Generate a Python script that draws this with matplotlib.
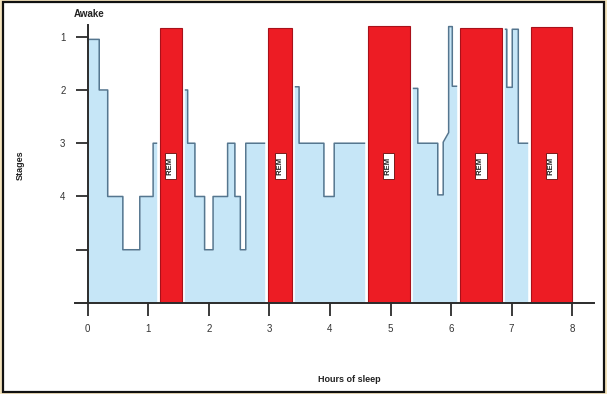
"""Sleep stages hypnogram with REM periods."""

import matplotlib

matplotlib.use("Agg")
from matplotlib import patheffects as pe  # noqa: E402
from matplotlib import pyplot as plt  # noqa: E402
from matplotlib.patches import Rectangle  # noqa: E402

plt.rcParams["font.family"] = ["Liberation Sans", "DejaVu Sans"]

_FILL_COLOR = "#c6e6f7"
_LINE_COLOR = "#55768f"
_REM_COLOR = "#ed1c24"
_REM_EDGE = "#a8111a"
_AXIS_COLOR = "#2b2b2b"
_OUTER_COLOR = "#f4e4bd"

# hypnogram vertices (hours, stage) -- hidden under REM bars where they overlap
hours = [0.00, 0.19, 0.19, 0.33, 0.33, 0.58, 0.58, 0.86, 0.86, 1.08, 1.08,
         1.37, 1.37, 1.65, 1.65, 1.77, 1.77, 1.93, 1.93, 2.07, 2.07, 2.31,
         2.31, 2.43, 2.43, 2.52, 2.52, 2.61, 2.61, 3.18, 3.18, 3.49, 3.49,
         3.90, 3.90, 4.07, 4.07, 4.97, 4.97, 5.45, 5.45, 5.78, 5.78, 5.87,
         5.87, 5.96, 5.96, 6.02, 6.02, 6.49, 6.49, 6.92, 6.92, 7.01, 7.01,
         7.11, 7.11, 8.00]
stages = [1.05, 1.05, 2.0, 2.0, 4.0, 4.0, 5.0, 5.0, 4.0, 4.0, 3.0,
          3.0, 2.0, 2.0, 3.0, 3.0, 4.0, 4.0, 5.0, 5.0, 4.0, 4.0,
          3.0, 3.0, 4.0, 4.0, 5.0, 5.0, 3.0, 3.0, 1.94, 1.94, 3.0,
          3.0, 4.0, 4.0, 3.0, 3.0, 1.97, 1.97, 3.0, 3.0, 3.97, 3.97,
          2.98, 2.8, 0.81, 0.81, 1.93, 1.93, 0.86, 0.86, 1.95, 1.95, 0.86,
          0.86, 3.0, 3.0]

rem_start = [1.19, 2.98, 4.62, 6.14, 7.32]
rem_end = [1.55, 3.38, 5.32, 6.84, 8.00]
rem_top = [0.83, 0.83, 0.80, 0.84, 0.81]

stage_ticks = [1, 2, 3, 4, 5]
stage_labels = ["1", "2", "3", "4", ""]
hour_ticks = [0, 1, 2, 3, 4, 5, 6, 7, 8]

BOTTOM = 6.0

fig = plt.figure(figsize=(6.07, 3.94), dpi=100, facecolor=_OUTER_COLOR)
fig.patches.append(
    Rectangle((3 / 607, 2 / 394), 601 / 607, 390 / 394, transform=fig.transFigure,
              facecolor="white", edgecolor="#111111", linewidth=1.6, zorder=-5)
)

ax = fig.add_axes([75 / 607, 91 / 394, 519 / 607, 278 / 394])
ax.set_facecolor("none")

ax.fill_between(hours, stages, BOTTOM, color=_FILL_COLOR, linewidth=0, zorder=1)
ax.plot(hours, stages, color=_LINE_COLOR, linewidth=1.1, zorder=2)

for start, end, top in zip(rem_start, rem_end, rem_top):
    bar = ax.bar(start, BOTTOM - top, width=end - start, bottom=top, align="edge",
                 color=_REM_COLOR, edgecolor=_REM_EDGE, linewidth=0.8, zorder=3)
    for patch in bar:
        patch.set_path_effects([pe.Stroke(linewidth=4, foreground="white"),
                                pe.Normal()])
    ax.text((start + end) / 2, 3.43, " REM ", rotation=90, ha="center",
            va="center", fontsize=5.5, fontweight="bold", color="#222222",
            zorder=4,
            bbox=dict(boxstyle="square,pad=0.3", facecolor="white",
                      edgecolor="#7a1a1a", linewidth=0.7))

ax.set_xlim(-0.21, 8.36)
ax.set_ylim(BOTTOM, 0.78)

for side in ("top", "right"):
    ax.spines[side].set_visible(False)
ax.spines["left"].set_position(("data", 0))
for side in ("left", "bottom"):
    ax.spines[side].set_color(_AXIS_COLOR)
    ax.spines[side].set_linewidth(1.4)
    ax.spines[side].set_zorder(5)

ax.set_xticks(hour_ticks)
ax.set_xticklabels([str(h) for h in hour_ticks])
ax.set_yticks(stage_ticks)
ax.set_yticklabels(stage_labels)
ax.tick_params(axis="both", direction="out", length=9, width=1.3,
               color=_AXIS_COLOR, labelsize=7, labelcolor="#333333")
ax.tick_params(axis="x", pad=6)
ax.tick_params(axis="y", pad=7)

ax.text(0.03, 0.57, "Awake", ha="center", va="center", fontsize=7,
        fontweight="bold", color="#222222", clip_on=False)
fig.text(20 / 607, 1 - 165 / 394, "Stages", rotation=90, ha="center", va="center",
         fontsize=6.5, fontweight="bold", color="#222222")
fig.text(349 / 607, 1 - 380 / 394, "Hours of sleep", ha="center", va="center",
         fontsize=6.5, fontweight="bold", color="#222222")

fig.savefig("out.png", dpi=100, facecolor=fig.get_facecolor())
plt.close(fig)
